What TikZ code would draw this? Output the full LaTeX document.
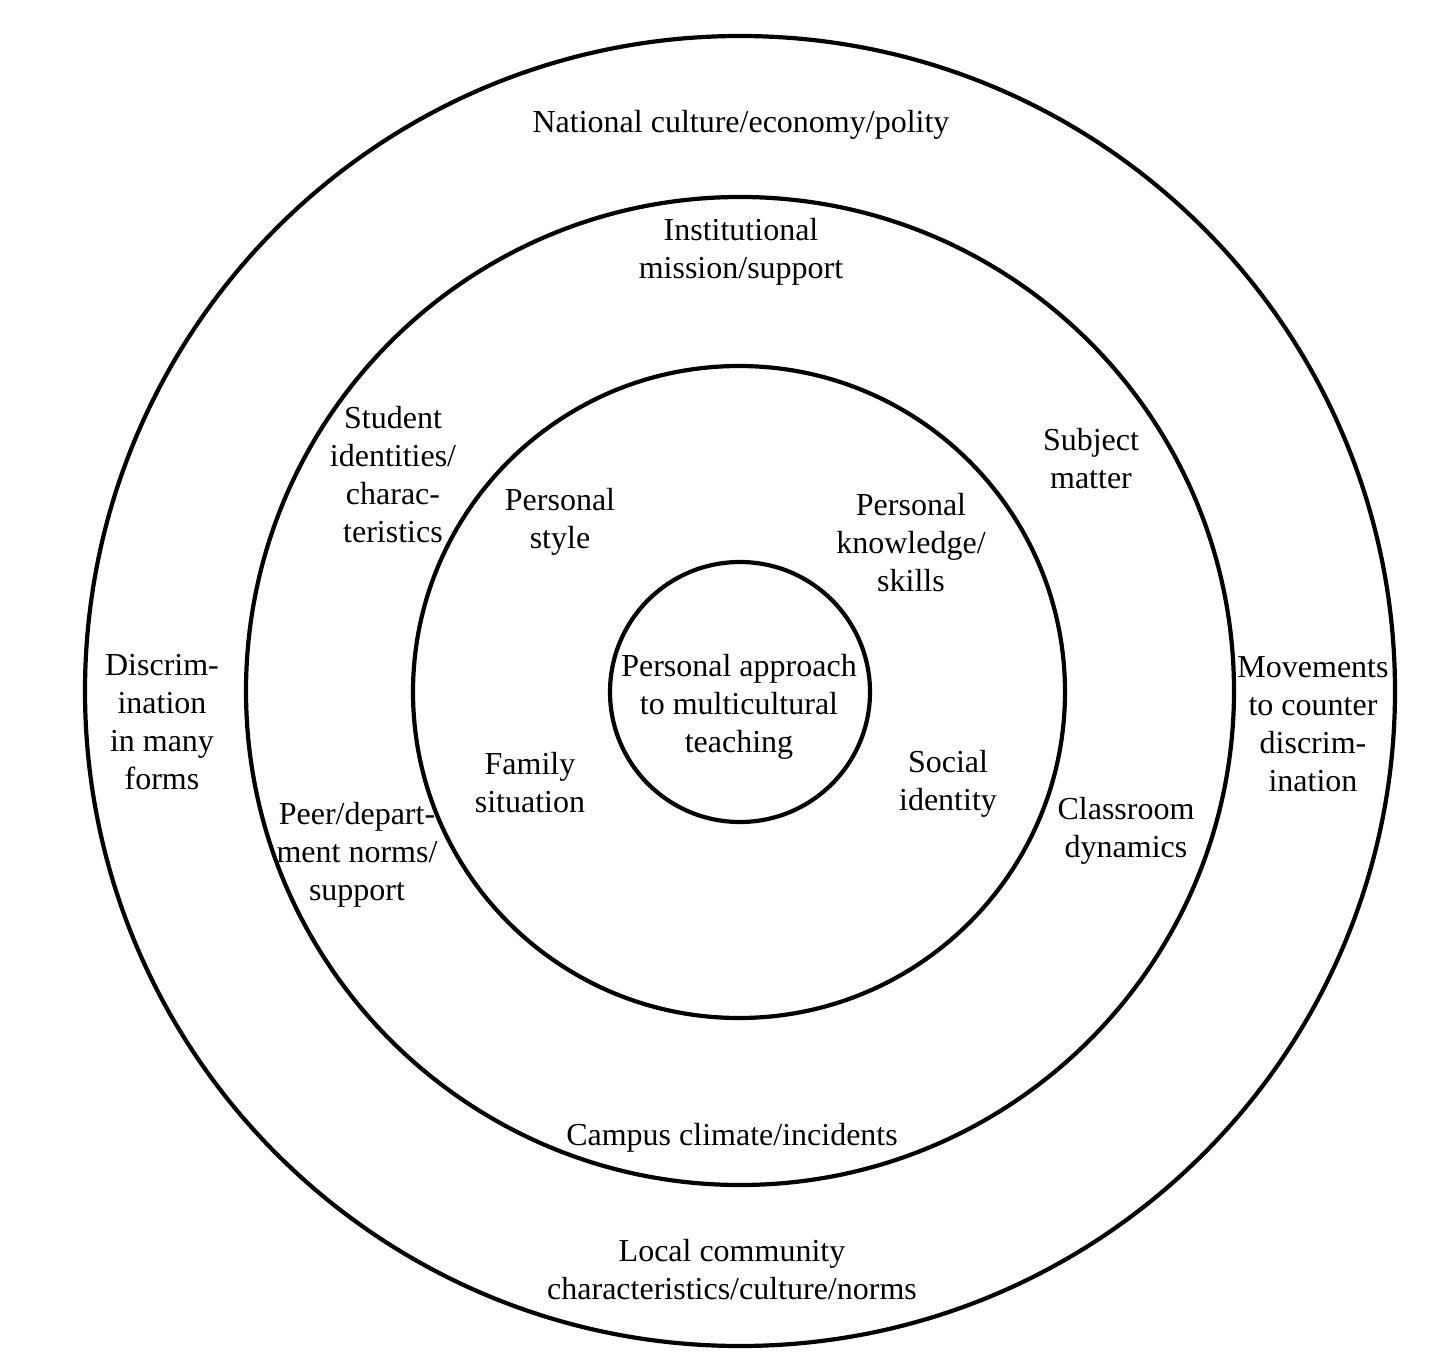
\documentclass[tikz,border=0pt]{standalone}
\usepackage{fontspec}
\setmainfont{Liberation Serif}
\begin{document}
\begin{tikzpicture}[x=1pt,y=-1pt,
  ring/.style={draw=black,line width=4.2pt},
  lbl/.style={align=center,inner sep=0pt,font=\fontsize{32}{38}\selectfont}]
\useasboundingbox[fill=white] (0,0) rectangle (1454,1367);
\draw[ring] (740,691) circle[radius=655];
\draw[ring] (740,691) circle[radius=494];
\draw[ring] (739,692) circle[radius=326];
\draw[ring] (740,692) circle[radius=130];
\node[lbl] (nat) at (741,125) {National culture/economy/polity};
\node[lbl] (inst) at (741,252) {Institutional\\mission/support};
\node[lbl] (stud) at (393,475) {Student\\identities/\\charac-\\teristics};
\node[lbl] (subj) at (1091,459) {Subject\\matter};
\node[lbl] (pstyle) at (560,522) {Personal\\style};
\node[lbl] (pknow) at (911,543) {Personal\\knowledge/\\skills};
\node[lbl] (disc) at (162,722) {Discrim-\\ination\\in many\\forms};
\node[lbl] (core) at (739,707) {Personal approach\\to multicultural\\teaching};
\node[lbl] (move) at (1313,724) {Movements\\to counter\\discrim-\\ination};
\node[lbl] (fam) at (530,783) {Family\\situation};
\node[lbl] (soc) at (948,784) {Social\\identity};
\node[lbl] (class) at (1126,831) {Classroom\\dynamics};
\node[lbl] (peer) at (357,855) {Peer/depart-\\ment norms/\\support};
\node[lbl] (camp) at (732,1138) {Campus climate/incidents};
\node[lbl] (local) at (732,1270) {Local community\\characteristics/culture/norms};
\end{tikzpicture}
\end{document}
